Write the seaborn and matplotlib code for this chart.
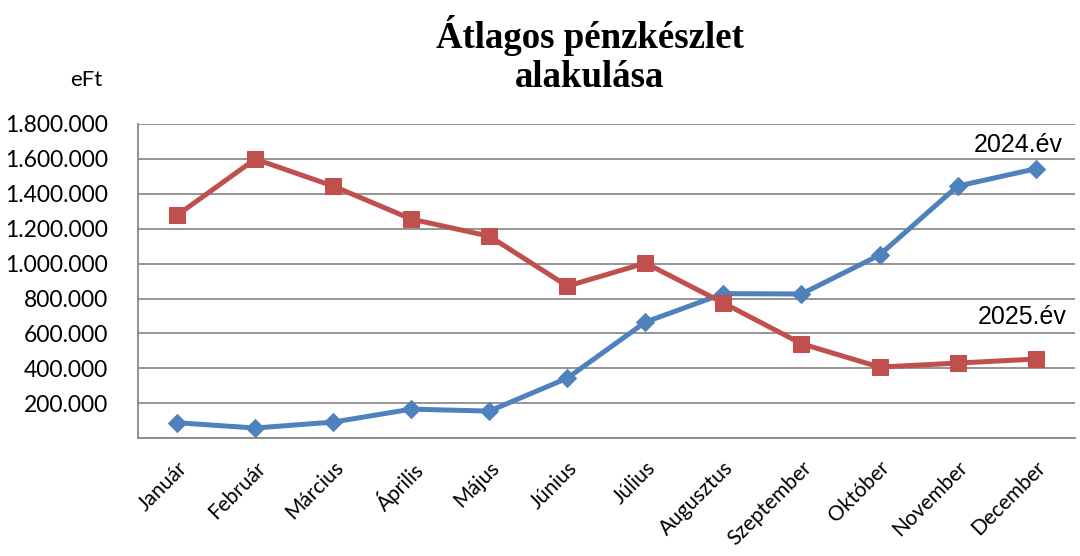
import seaborn as sns
import matplotlib.pyplot as plt
import matplotlib.ticker as mticker
import numpy as np
import pandas as pd

months = ['Január', 'Február', 'Március', 'Április', 'Május', 'Június',
          'Július', 'Augusztus', 'Szeptember', 'Október', 'November', 'December']
ev_2024 = [88000, 58000, 92000, 166000, 155000, 344000,
           665000, 828000, 826000, 1049000, 1444000, 1543000]
ev_2025 = [1278000, 1599000, 1444000, 1255000, 1157000, 871000,
           1003000, 774000, 541000, 407000, 430000, 453000]

sns.set_style('white')
plt.rcParams['font.family'] = ['Lato', 'DejaVu Sans']
plt.rcParams['text.color'] = 'black'
plt.rcParams['xtick.color'] = 'black'
plt.rcParams['ytick.color'] = 'black'

df = pd.DataFrame({'pos': np.arange(len(months)), 'month': months,
                   '2024': ev_2024, '2025': ev_2025})

fig = plt.figure(figsize=(10.8, 5.56), dpi=100)
ax = fig.add_axes([0.128, 0.212, 0.867, 0.565])

sns.lineplot(data=df, x='pos', y='2024', ax=ax, color='#4F81BD', lw=3.6,
             marker='D', markersize=9.5, markeredgecolor='#4F81BD')
sns.lineplot(data=df, x='pos', y='2025', ax=ax, color='#C0504D', lw=3.6,
             marker='s', markersize=11, markeredgecolor='#C0504D')

ax.set_xlim(-0.5, len(months) - 0.5)
ax.set_ylim(0, 1800000)
ax.yaxis.set_major_locator(mticker.MultipleLocator(200000))
ax.yaxis.set_major_formatter(mticker.FuncFormatter(
    lambda v, p: '' if v == 0 else f'{int(v):,}'.replace(',', '.')))
ax.set_xticks(np.arange(len(months)))
ax.set_xticklabels(months, rotation=45, ha='right', rotation_mode='anchor', fontsize=15)
ax.set_xticks(np.arange(-0.5, len(months)), minor=True)
ax.tick_params(axis='x', which='major', length=0, pad=14, colors='black')
ax.tick_params(axis='x', which='minor', length=7, color='#888888', width=1.2, direction='out')
ax.tick_params(axis='y', length=9, color='#888888', width=1.2, direction='out',
               labelsize=16.5, pad=13, labelcolor='black')
ax.set_xlabel('')
ax.set_ylabel('')
ax.grid(axis='y', color='#8c8c8c', lw=1.3)
for s in ['top', 'right']:
    ax.spines[s].set_visible(False)
for s in ['left', 'bottom']:
    ax.spines[s].set_color('#888888')
    ax.spines[s].set_linewidth(1.3)

ax.text(11.35, 1680000, '2024.év', ha='right', va='center', fontsize=18,
        family=['Liberation Sans Narrow', 'Liberation Sans'])
ax.text(11.4, 693000, '2025.év', ha='right', va='center', fontsize=18,
        family=['Liberation Sans Narrow', 'Liberation Sans'])

fig.text(0.546, 0.901, 'Átlagos pénzkészlet\nalakulása', ha='center', va='center',
         fontsize=26.5, fontweight='bold', family=['Liberation Serif'], linespacing=1.12)
fig.text(0.08, 0.856, 'eFt', ha='center', va='center', fontsize=16)

fig.savefig('out.png', dpi=100)
